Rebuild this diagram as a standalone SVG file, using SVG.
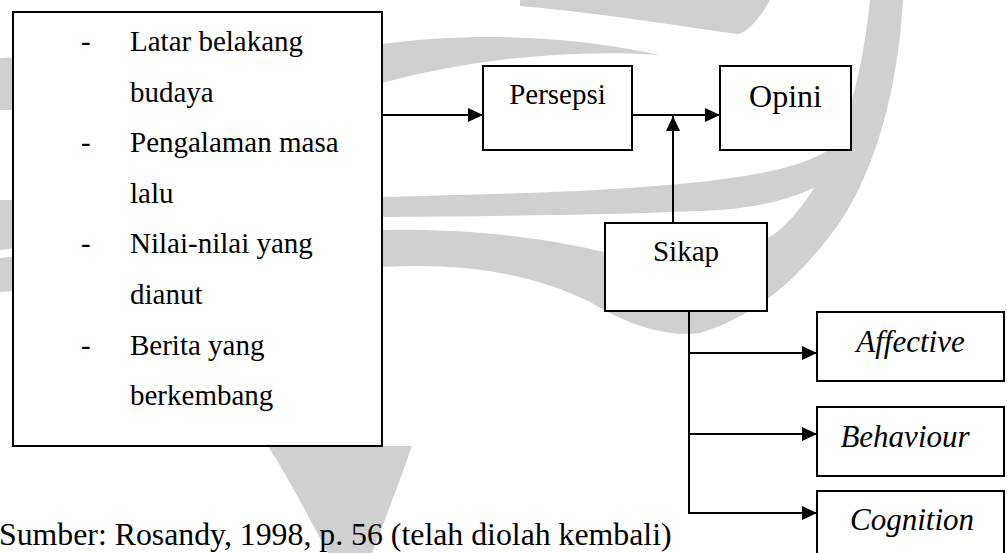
<svg xmlns="http://www.w3.org/2000/svg" width="1007" height="553" viewBox="0 0 1007 553">
  <style>
    .box { fill: #ffffff; stroke: #000000; stroke-width: 2; }
    .txt { font-family: 'Liberation Serif', 'DejaVu Serif', serif; fill: #000000; }
    .list { font-size: 29px; }
    .lbl { font-size: 29px; text-anchor: middle; }
    .ital { font-size: 31px; font-style: italic; text-anchor: middle; }
    .conn { fill: none; stroke: #000000; stroke-width: 2; }
    .wm { fill: #d0d0d0; }
  </style>
  <defs>
    <marker id="arrow" markerUnits="userSpaceOnUse" markerWidth="16" markerHeight="14" refX="15" refY="7" orient="auto">
      <path d="M0,0 L15,7 L0,14 Z" fill="#000000"/>
    </marker>
  </defs>

  <rect width="1007" height="553" fill="#ffffff"/>

  <!-- background logo ribbons -->
  <g id="watermark">
    <!-- upper ribbon -->
    <path class="wm" d="M0 58 C120 55 260 50 382 44 C470 32 570 35 660 55 C560 48 460 62 382 83 C250 100 120 110 0 110 Z"/>
    <path class="wm" d="M520 0 L770 0 C760 18 748 32 738 34 C690 28 610 14 520 6 Z"/>
    <!-- thin middle ribbon -->
    <path class="wm" d="M0 200 C120 200 260 198 382 197 C520 194 650 190 730 178 C790 170 822 158 842 140 L848 165 C818 192 778 205 720 210 C620 215 500 216 382 217 C250 220 120 235 0 250 Z"/>
    <!-- large sweeping ribbon -->
    <path class="wm" d="M870 0 L903 0 C898 90 875 170 840 222 C805 272 760 315 700 333 C660 338 620 320 590 302 C530 272 460 263 382 267 C250 274 120 284 0 292 L0 258 C150 245 280 232 382 230 C480 228 560 240 620 256 C680 270 740 262 782 228 C832 180 860 100 870 0 Z"/>
    <!-- lower tail -->
    <path class="wm" d="M268 446 L412 446 C400 480 385 520 372 553 L328 553 C310 520 290 480 268 446 Z"/>
  </g>

  <!-- connectors -->
  <g id="connectors">
    <line class="conn" x1="382" y1="115" x2="483" y2="115" marker-end="url(#arrow)"/>
    <line class="conn" x1="632" y1="115" x2="720" y2="115" marker-end="url(#arrow)"/>
    <line class="conn" x1="673" y1="223" x2="673" y2="116" marker-end="url(#arrow)"/>
    <polyline class="conn" points="689,311 689,513"/>
    <line class="conn" x1="689" y1="353" x2="817" y2="353" marker-end="url(#arrow)"/>
    <line class="conn" x1="689" y1="434" x2="817" y2="434" marker-end="url(#arrow)"/>
    <line class="conn" x1="688" y1="513" x2="817" y2="513" marker-end="url(#arrow)"/>
  </g>

  <!-- factors box -->
  <g id="node-faktor">
    <rect class="box" x="13" y="12" width="369" height="434"/>
    <g class="txt list">
      <text x="81" y="51">-</text>
      <text x="130" y="51">Latar belakang</text>
      <text x="130" y="101.6">budaya</text>
      <text x="81" y="152.2">-</text>
      <text x="130" y="152.2">Pengalaman masa</text>
      <text x="130" y="202.8">lalu</text>
      <text x="81" y="253.4">-</text>
      <text x="130" y="253.4">Nilai-nilai yang</text>
      <text x="130" y="304">dianut</text>
      <text x="81" y="354.6">-</text>
      <text x="130" y="354.6">Berita yang</text>
      <text x="130" y="405.2">berkembang</text>
    </g>
  </g>

  <g id="node-persepsi">
    <rect class="box" x="483" y="66" width="149" height="84"/>
    <text class="txt lbl" x="557.5" y="103.5">Persepsi</text>
  </g>

  <g id="node-opini">
    <rect class="box" x="720" y="66" width="131" height="84"/>
    <text class="txt lbl" x="785.5" y="106.5" style="font-size:32px">Opini</text>
  </g>

  <g id="node-sikap">
    <rect class="box" x="605" y="223" width="162" height="88"/>
    <text class="txt lbl" x="686" y="261">Sikap</text>
  </g>

  <g id="node-affective">
    <rect class="box" x="817" y="312" width="187" height="69"/>
    <text class="txt ital" x="910.5" y="352">Affective</text>
  </g>

  <g id="node-behaviour">
    <rect class="box" x="817" y="407" width="187" height="69"/>
    <text class="txt ital" x="905" y="447">Behaviour</text>
  </g>

  <g id="node-cognition">
    <rect class="box" x="817" y="491" width="187" height="69"/>
    <text class="txt ital" x="912" y="530">Cognition</text>
  </g>

  <text class="txt" x="-1" y="545" style="font-size:31.8px">Sumber: Rosandy, 1998, p. 56 (telah diolah kembali)</text>
</svg>
